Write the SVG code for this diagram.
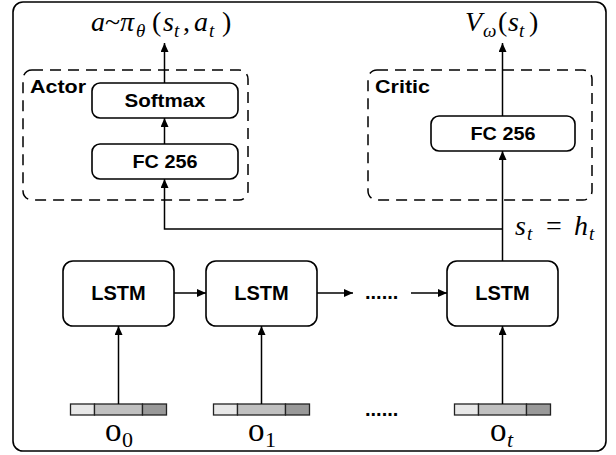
<svg xmlns="http://www.w3.org/2000/svg" width="616" height="455" viewBox="0 0 616 455">
<style>
.box{fill:#fff;stroke:#000;stroke-width:1.6}
.dash{fill:none;stroke:#000;stroke-width:1.5;stroke-dasharray:11 7}
.lbl{font-family:"Liberation Sans",Arial,sans-serif;font-weight:bold;fill:#000}
.m{font-family:"Liberation Serif","Times New Roman",serif;font-size:28px;fill:#000}
.sub{font-size:19px}
.o{font-size:33px}
.osub{font-size:22px}
.i{font-style:italic}
.conn{fill:none;stroke:#000;stroke-width:1.5}
.s1{fill:#e8e8e8;stroke:#222;stroke-width:1.3}
.s2{fill:#c0c0c0;stroke:#222;stroke-width:1.3}
.s3{fill:#999999;stroke:#222;stroke-width:1.3}
</style>
<defs>
<marker id="ah" markerUnits="userSpaceOnUse" markerWidth="9" markerHeight="8" refX="9" refY="4" orient="auto">
<path d="M0,0 L9,4 L0,8 z" fill="#000"/>
</marker>
</defs>
<rect x="13" y="2" width="593" height="449" rx="10" fill="#fff" stroke="#000" stroke-width="1.6"/>

<g id="actor">
<rect class="dash" x="23" y="70" width="225" height="130" rx="9"/>
<text class="lbl" x="30" y="93" font-size="19" textLength="56" lengthAdjust="spacingAndGlyphs">Actor</text>
</g>
<g id="critic">
<rect class="dash" x="368" y="70" width="224" height="130" rx="9"/>
<text class="lbl" x="375" y="93" font-size="19" textLength="55" lengthAdjust="spacingAndGlyphs">Critic</text>
</g>

<g id="softmax">
<rect class="box" x="92" y="83" width="146" height="35" rx="8"/>
<text class="lbl" x="165" y="107" font-size="18" text-anchor="middle" textLength="81" lengthAdjust="spacingAndGlyphs">Softmax</text>
</g>
<g id="actor-fc">
<rect class="box" x="92" y="144" width="146" height="35" rx="8"/>
<text class="lbl" x="165" y="168" font-size="19" text-anchor="middle" textLength="65" lengthAdjust="spacingAndGlyphs">FC 256</text>
</g>
<g id="critic-fc">
<rect class="box" x="431" y="116" width="144" height="35" rx="8"/>
<text class="lbl" x="503" y="140" font-size="19" text-anchor="middle" textLength="65" lengthAdjust="spacingAndGlyphs">FC 256</text>
</g>

<g id="lstm1">
<rect class="box" x="63" y="261" width="111" height="65" rx="10"/>
<text class="lbl" x="118.5" y="300" font-size="20" text-anchor="middle">LSTM</text>
</g>
<g id="lstm2">
<rect class="box" x="206" y="261" width="111" height="65" rx="10"/>
<text class="lbl" x="261.5" y="300" font-size="20" text-anchor="middle">LSTM</text>
</g>
<g id="lstm3">
<rect class="box" x="447" y="261" width="111" height="65" rx="10"/>
<text class="lbl" x="502.5" y="300" font-size="20" text-anchor="middle">LSTM</text>
</g>

<g id="o0">
<rect class="s1" x="70.5" y="404" width="24" height="11"/>
<rect class="s2" x="94.5" y="404" width="48" height="11"/>
<rect class="s3" x="142.5" y="404" width="24" height="11"/>
<text class="m o" y="441"><tspan x="105">o</tspan><tspan class="osub" x="122" y="447">0</tspan></text>
</g>
<g id="o1">
<rect class="s1" x="213.5" y="404" width="24" height="11"/>
<rect class="s2" x="237.5" y="404" width="48" height="11"/>
<rect class="s3" x="285.5" y="404" width="24" height="11"/>
<text class="m o" y="441"><tspan x="248">o</tspan><tspan class="osub" x="265" y="447">1</tspan></text>
</g>
<g id="ot">
<rect class="s1" x="454.5" y="404" width="24" height="11"/>
<rect class="s2" x="478.5" y="404" width="48" height="11"/>
<rect class="s3" x="526.5" y="404" width="24" height="11"/>
<text class="m o" y="441"><tspan x="490">o</tspan><tspan class="osub i" x="507" y="447">t</tspan></text>
</g>

<g id="dots">
<text class="lbl" x="365" y="299" font-size="20">......</text>
<text class="lbl" x="365" y="416" font-size="20">......</text>
</g>

<g id="labels">
<text class="m" y="31"><tspan class="i" x="91">a</tspan><tspan x="105">~</tspan><tspan class="i" x="120">π</tspan><tspan class="sub i" x="136" y="37">θ</tspan><tspan x="152" y="31">(</tspan><tspan class="i" x="163">s</tspan><tspan class="sub i" x="174" y="37">t</tspan><tspan x="183" y="31">,</tspan><tspan class="i" x="194">a</tspan><tspan class="sub i" x="209" y="37">t</tspan><tspan x="222" y="31">)</tspan></text>
<text class="m" y="31"><tspan class="i" x="465">V</tspan><tspan class="sub i" x="483" y="37">ω</tspan><tspan x="498" y="31">(</tspan><tspan class="i" x="508">s</tspan><tspan class="sub i" x="519" y="37">t</tspan><tspan x="529" y="31">)</tspan></text>
<text class="m" y="235"><tspan class="i" x="515">s</tspan><tspan class="sub i" x="527" y="240">t</tspan><tspan x="546" y="235">=</tspan><tspan class="i" x="574">h</tspan><tspan class="sub i" x="589" y="240">t</tspan></text>
</g>

<g id="connectors">
<line class="conn" x1="164.5" y1="144" x2="164.5" y2="118" marker-end="url(#ah)"/>
<line class="conn" x1="164.5" y1="83" x2="164.5" y2="43" marker-end="url(#ah)"/>
<path class="conn" d="M502.5,229 H164.5 V179" marker-end="url(#ah)"/>
<line class="conn" x1="502.5" y1="261" x2="502.5" y2="151" marker-end="url(#ah)"/>
<line class="conn" x1="502.5" y1="116" x2="502.5" y2="43" marker-end="url(#ah)"/>
<line class="conn" x1="174" y1="293" x2="206" y2="293" marker-end="url(#ah)"/>
<line class="conn" x1="317" y1="293" x2="353" y2="293" marker-end="url(#ah)"/>
<line class="conn" x1="411" y1="293" x2="447" y2="293" marker-end="url(#ah)"/>
<line class="conn" x1="118.5" y1="404" x2="118.5" y2="326" marker-end="url(#ah)"/>
<line class="conn" x1="261.5" y1="404" x2="261.5" y2="326" marker-end="url(#ah)"/>
<line class="conn" x1="502.5" y1="404" x2="502.5" y2="326" marker-end="url(#ah)"/>
</g>
</svg>
